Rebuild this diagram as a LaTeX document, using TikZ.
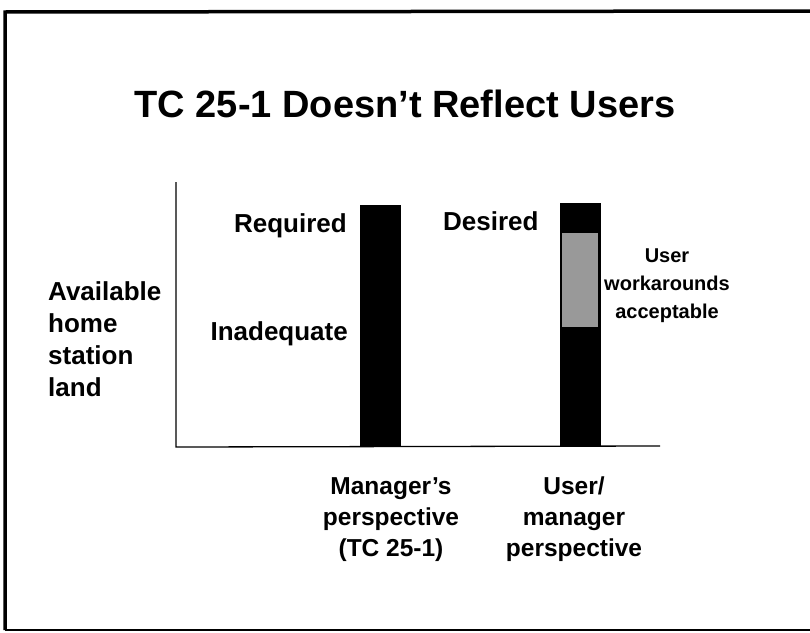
\documentclass[tikz,border=0pt]{standalone}
\usepackage{fontspec}
\setmainfont{Liberation Sans}
\usetikzlibrary{positioning}

\begin{document}
\begin{tikzpicture}[x=1pt, y=-1pt,
        lbl/.style={font=\bfseries\fontsize{26}{32}\selectfont, inner sep=0pt},
        bar/.style={rectangle, fill=black, inner sep=0pt, minimum width=41pt, anchor=south}]
    \useasboundingbox (0,0) rectangle (810,632);
    \fill[white] (0,0) rectangle (810,632);

    \coordinate (tr) at (815,11);
    \coordinate (tl) at (5,12);
    \coordinate (bl) at (5,630);
    \coordinate (br) at (815,630);
    \draw[line width=3.5pt] (tr) -- (tl) -- (bl);
    \draw[line width=2pt] (bl) -- (br);

    \node[font=\bfseries\fontsize{38}{40}\selectfont, inner sep=0pt, anchor=base] (title) at (405,117) {TC 25-1 Doesn't Reflect Users};

    \coordinate (ytop) at (176,182);
    \coordinate (origin) at (176,447);
    \coordinate (xend) at (660,446);
    \draw[line width=1.3pt] (ytop) -- (origin) -- (xend);

    \node[bar, minimum height=242pt] (mgrbar) at (380.5,447) {};
    \node[bar, minimum height=244pt] (userbar) at (580,447) {};
    \node[rectangle, fill=black!40, inner sep=0pt, minimum width=36pt, minimum height=94pt, anchor=north] (workaround) at (580,233) {};

    \node[lbl, anchor=base east] (required) at (347,232) {Required};
    \node[lbl, anchor=base east] (inadequate) at (348,340) {Inadequate};
    \node[lbl, anchor=base west] (desired) at (443,230) {Desired};
    \node[lbl, align=left, anchor=base west] (avail) at (48,396) {Available\\home\\station\\land};
    \node[lbl, font=\bfseries\fontsize{20}{28}\selectfont, align=center, anchor=base] (accept) at (667,318) {User\\workarounds\\acceptable};
    \node[lbl, font=\bfseries\fontsize{24.5}{31}\selectfont, align=center, anchor=base] (mgrview) at (391,556) {Manager's\\perspective\\(TC 25-1)};
    \node[lbl, font=\bfseries\fontsize{24.5}{31}\selectfont, align=center, anchor=base] (userview) at (574,556) {User/\\manager\\perspective};
\end{tikzpicture}
\end{document}
